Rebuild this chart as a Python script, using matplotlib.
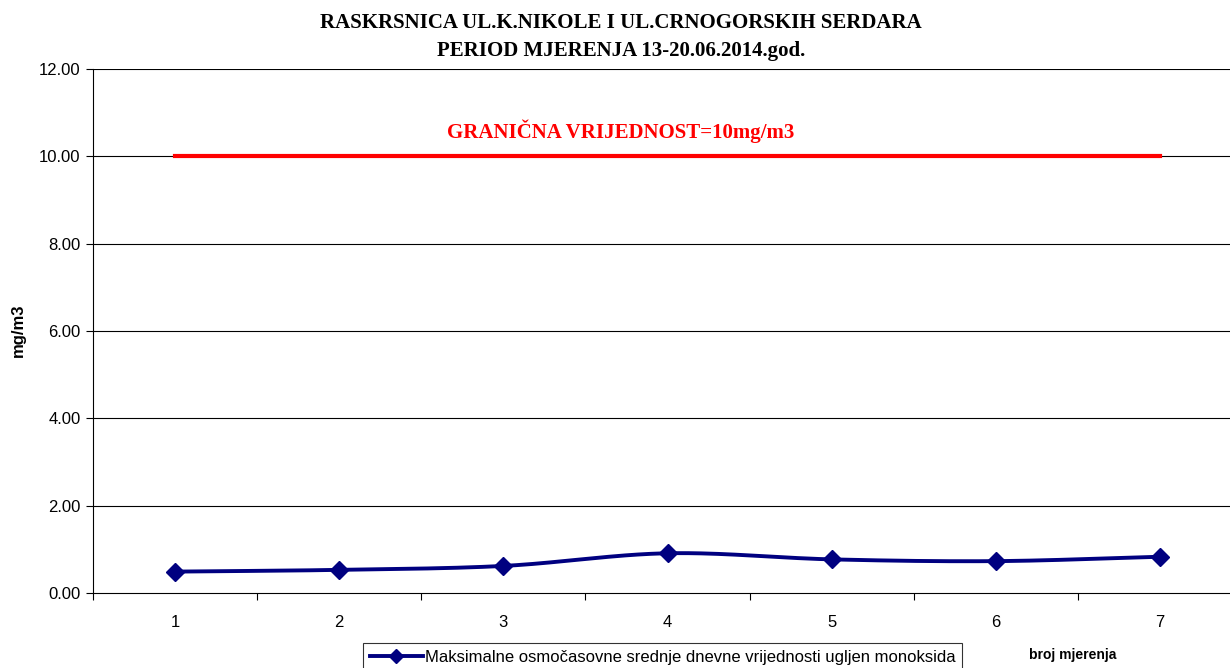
import numpy as np
import matplotlib
matplotlib.use("Agg")
import matplotlib.pyplot as plt
from matplotlib.lines import Line2D

# measurement number and max 8h mean CO values (mg/m3)
mjerenja = [1, 2, 3, 4, 5, 6, 7]
co_vrijednosti = [0.49, 0.53, 0.62, 0.91, 0.77, 0.73, 0.83]
granica = [10, 10, 10, 10, 10, 10, 10]
y_ticks = [0, 2, 4, 6, 8, 10, 12]


def smooth(x, y, n=40):
    # Catmull-Rom style smoothing like the spreadsheet "smoothed line"
    x = np.asarray(x, float)
    y = np.asarray(y, float)
    px = np.concatenate([[2 * x[0] - x[1]], x, [2 * x[-1] - x[-2]]])
    py = np.concatenate([[2 * y[0] - y[1]], y, [2 * y[-1] - y[-2]]])
    xs, ys = [], []
    t = np.linspace(0, 1, n)
    for i in range(1, len(px) - 2):
        for p, out in ((px, xs), (py, ys)):
            p0, p1, p2, p3 = p[i - 1], p[i], p[i + 1], p[i + 2]
            out.extend(0.5 * (2 * p1 + (-p0 + p2) * t
                              + (2 * p0 - 5 * p1 + 4 * p2 - p3) * t ** 2
                              + (-p0 + 3 * p1 - 3 * p2 + p3) * t ** 3))
    return np.array(xs), np.array(ys)


fig = plt.figure(figsize=(12.3, 6.68), dpi=100)
ax = fig.add_axes([93 / 1230, 75 / 668, 1149 / 1230, 524 / 668])

ax.set_xlim(0.5, 7.5)
ax.set_ylim(0, 12)

for v in y_ticks[1:]:
    ax.axhline(v, color="black", lw=0.8, zorder=1)

ax.plot(mjerenja, granica, color="#ff0000", lw=3, solid_capstyle="projecting", zorder=2)

sx, sy = smooth(mjerenja, co_vrijednosti)
ax.plot(sx, sy, color="#000080", lw=2.8, zorder=3)
ax.plot(mjerenja, co_vrijednosti, ls="none", marker="D", ms=9, color="#000080", zorder=4)

ax.spines["top"].set_visible(False)
ax.spines["right"].set_visible(False)
for s in ("left", "bottom"):
    ax.spines[s].set_color("black")
    ax.spines[s].set_linewidth(0.8)

ax.set_yticks(y_ticks)
ax.set_yticklabels([f"{v:.2f}" for v in y_ticks], family="Liberation Sans", fontsize=12)
ax.set_xticks(mjerenja)
ax.set_xticklabels([str(m) for m in mjerenja], family="Liberation Sans", fontsize=12)
ax.set_xticks(np.arange(0.5, 8, 1), minor=True)
ax.tick_params(axis="x", which="major", length=0, pad=16)
ax.tick_params(axis="x", which="minor", length=5, width=0.8, direction="out")
ax.tick_params(axis="y", length=5, width=0.8, direction="out", pad=4)

fig.text(0.505, 1 - 23 / 668, "RASKRSNICA UL.K.NIKOLE I UL.CRNOGORSKIH SERDARA",
         ha="center", va="center", family="Liberation Serif", weight="bold", fontsize=15)
fig.text(0.505, 1 - 51 / 668, "PERIOD MJERENJA 13-20.06.2014.god.",
         ha="center", va="center", family="Liberation Serif", weight="bold", fontsize=15)

fig.text(621 / 1230, 1 - 131 / 668, "GRANIČNA VRIJEDNOST=10mg/m3",
         ha="center", va="center", family="Liberation Serif", weight="bold",
         fontsize=15, color="#ff0000")

fig.text(18 / 1230, 1 - 330 / 668, "mg/m3", rotation=90, ha="center", va="center",
         family="Liberation Sans", weight="bold", fontsize=12)
fig.text(1073 / 1230, 1 - 655 / 668, "broj mjerenja", ha="center", va="center",
         family="Liberation Sans", weight="bold", fontsize=10)

handle = Line2D([], [], color="#000080", lw=2.8, marker="D", ms=7)
leg = fig.legend([handle], ["Maksimalne osmočasovne srednje dnevne vrijednosti ugljen monoksida"],
                 loc="upper left", bbox_to_anchor=(363 / 1230, 1 - 643 / 668),
                 prop={"family": "Liberation Sans", "size": 12},
                 frameon=True, fancybox=False, handlelength=3.2, handletextpad=0.1,
                 borderpad=0.4, borderaxespad=0)
leg.get_frame().set_edgecolor("black")
leg.get_frame().set_linewidth(0.8)

fig.savefig("out.png", dpi=100)
